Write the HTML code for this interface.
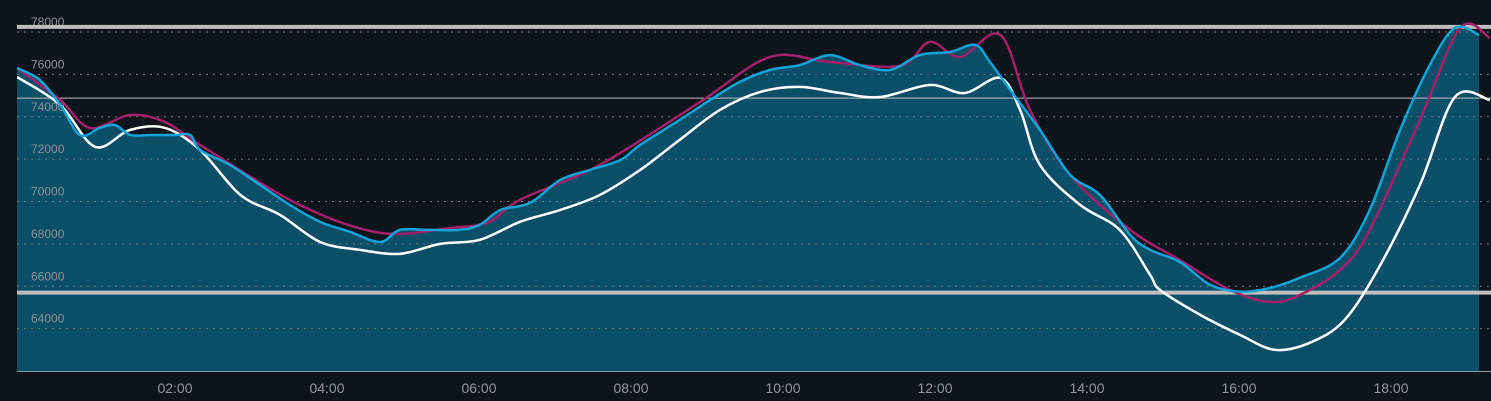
<!DOCTYPE html>
<html><head><meta charset="utf-8"><style>
html,body{margin:0;padding:0;background:#0e141b;}
svg{display:block;font-family:"Liberation Sans",sans-serif;}
</style></head><body>
<svg id="chart" width="1491" height="401" viewBox="0 0 1491 401"></svg>
<script>
const yTicks=[64000,66000,68000,70000,72000,74000,76000,78000];
const xTickHours=[2,4,6,8,10,12,14,16,18];
const xTickLabels=["02:00","04:00","06:00","08:00","10:00","12:00","14:00","16:00","18:00"];
const refLines=[78240,74880,65700];
const cyanHours=[-0.08,0.22,0.49,0.75,1.01,1.21,1.41,1.67,2.0,2.2,2.33,2.72,3.12,3.51,3.91,4.3,4.7,4.96,5.36,5.75,6.01,6.28,6.67,7.07,7.46,7.86,8.12,8.64,9.04,9.43,9.83,10.22,10.62,11.01,11.41,11.8,12.2,12.53,12.72,12.99,13.38,13.78,14.17,14.57,14.83,15.22,15.62,16.01,16.41,16.8,17.33,17.72,18.12,18.51,18.84,19.16];
const cyanValues=[76300,75740,74560,73140,73470,73610,73140,73140,73140,73140,72430,71730,70780,69840,69040,68570,68090,68660,68660,68660,68900,69600,69930,71020,71490,71960,72670,73850,74790,75640,76210,76440,76910,76440,76210,76910,77060,77390,76600,75260,73380,71250,70310,68420,67720,67150,66070,65740,65920,66400,67340,69600,73380,76440,78190,77860];
const magHours=[-0.08,0.49,0.88,1.41,1.87,2.33,3.64,4.7,5.62,6.14,6.54,7.59,8.91,9.83,10.62,11.54,11.93,12.33,12.86,13.25,13.78,14.57,15.22,15.88,16.41,16.8,17.33,17.72,18.38,18.91,19.3];
const magValues=[76300,74790,73470,74080,73750,72670,69840,68520,68750,69040,70080,71730,74700,76820,76580,76400,77530,76820,77860,74320,71250,68660,67240,65830,65260,65590,66770,68660,73850,78190,77720];
const whiteHours=[-0.08,0.49,0.95,1.41,1.87,2.33,2.86,3.38,3.91,4.43,4.96,5.49,6.01,6.54,7.07,7.59,8.12,8.64,9.17,9.7,10.22,10.75,11.28,11.93,12.39,12.86,13.12,13.38,13.91,14.43,14.83,14.96,15.49,16.01,16.47,16.93,17.39,17.86,18.38,18.84,19.3];
const whiteValues=[75880,74560,72580,73380,73470,72430,70310,69370,68090,67720,67530,68000,68190,69040,69600,70310,71490,72910,74320,75170,75410,75120,74930,75500,75120,75830,74320,71730,69840,68660,66540,65830,64650,63710,63000,63330,64410,67010,70780,74930,74790];

const NS="http://www.w3.org/2000/svg";
const svg=document.getElementById('chart');
const X0=17,X1=1491,FILLEND=1479,YTOP=32,YBOT=371,VMIN=62000,VMAX=78000;
const xs=h=>23+h*76;
const ys=v=>YBOT-(v-VMIN)/(VMAX-VMIN)*(YBOT-YTOP);
function mk(tag,attrs){const e=document.createElementNS(NS,tag);for(const k in attrs)e.setAttribute(k,attrs[k]);svg.appendChild(e);return e;}
function smooth(hs,vs){
  const p=hs.map((h,i)=>[xs(h),ys(vs[i])]);
  let d=`M${p[0][0]},${p[0][1]}`;
  for(let i=0;i<p.length-1;i++){
    const p0=p[i-1]||p[i],p1=p[i],p2=p[i+1],p3=p[i+2]||p2;
    const c1=[p1[0]+(p2[0]-p0[0])/6,p1[1]+(p2[1]-p0[1])/6];
    const c2=[p2[0]-(p3[0]-p1[0])/6,p2[1]-(p3[1]-p1[1])/6];
    d+=` C${c1[0]},${c1[1]} ${c2[0]},${c2[1]} ${p2[0]},${p2[1]}`;
  }
  return d;
}
const defs=mk('defs',{});
const cp=document.createElementNS(NS,'clipPath');cp.setAttribute('id','fc');defs.appendChild(cp);
const cr=document.createElementNS(NS,'rect');cr.setAttribute('x',X0);cr.setAttribute('y',0);cr.setAttribute('width',FILLEND-X0);cr.setAttribute('height',YBOT);cp.appendChild(cr);
const cp2=document.createElementNS(NS,'clipPath');cp2.setAttribute('id','pc');defs.appendChild(cp2);
const cr2=document.createElementNS(NS,'rect');cr2.setAttribute('x',X0);cr2.setAttribute('y',0);cr2.setAttribute('width',X1-X0);cr2.setAttribute('height',YBOT);cp2.appendChild(cr2);

// area fill under cyan
const cd=smooth(cyanHours,cyanValues);
const lastX=xs(cyanHours[cyanHours.length-1]);
const area=mk('path',{d:cd+` L${lastX+20},${ys(cyanValues[cyanValues.length-1])} L${lastX+20},${YBOT} L${xs(cyanHours[0])},${YBOT} Z`,fill:'#0a4e67','clip-path':'url(#fc)'});



// grid + y labels
yTicks.forEach(v=>{
  const g=mk('line',{x1:X0,x2:X1,y1:ys(v),y2:ys(v),stroke:'#6d7a82','stroke-width':1,'stroke-dasharray':'2,5'});
  
  
  const t=mk('text',{x:31,y:ys(v)-6,fill:'#8a9298','font-size':12});
  t.textContent=String(v);
  
  
});
// x labels
xTickHours.forEach((h,i)=>{
  const t=mk('text',{x:xs(h),y:393,fill:'#8f969b','font-size':14,'text-anchor':'middle'});
  t.textContent=xTickLabels[i];
  
  
});
// axis
const ax=mk('line',{x1:X0,x2:X1,y1:YBOT+0.5,y2:YBOT+0.5,stroke:'#8a9aa2','stroke-width':1});


// reference lines
refLines.forEach((v,i)=>{
  const l=mk('line',{x1:X0,x2:X1,y1:ys(v),y2:ys(v),stroke:'#bdbdbd','stroke-width':i===1?1:4});
  
  
});
// series
const w=mk('path',{d:smooth(whiteHours,whiteValues),fill:'none',stroke:'#ffffff','stroke-width':2.5,'clip-path':'url(#pc)'});


const m=mk('path',{d:smooth(magHours,magValues),fill:'none',stroke:'#a3206a','stroke-width':2.5,'clip-path':'url(#pc)'});


const c=mk('path',{d:cd,fill:'none',stroke:'#0fa3d8','stroke-width':2.5,'clip-path':'url(#pc)'});


</script>
</body></html>
